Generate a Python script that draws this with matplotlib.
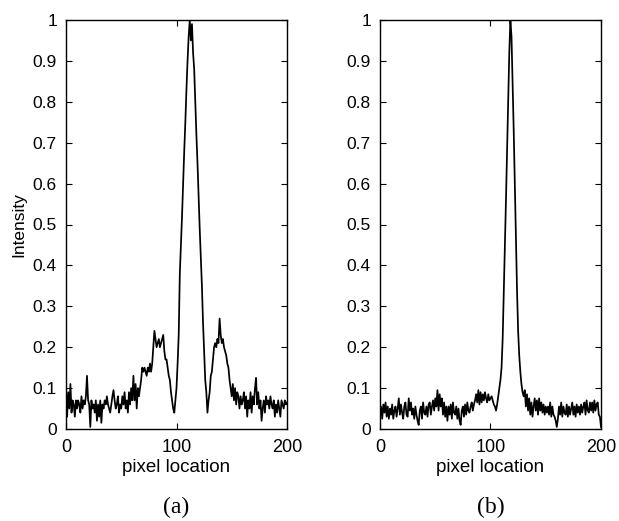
import numpy as np
import matplotlib
matplotlib.use("Agg")
import matplotlib.pyplot as plt

# Intensity profile (a), pixel 0..200
intensity_a = [
    0.10, 0.03, 0.09, 0.05, 0.11, 0.04, 0.07, 0.06, 0.03, 0.07, 0.05,
    0.07, 0.06, 0.04, 0.08, 0.05, 0.07, 0.06, 0.08, 0.13, 0.07,
    0.06, 0.005, 0.07, 0.05, 0.06, 0.04, 0.07, 0.02, 0.06, 0.03,
    0.07, 0.015, 0.06, 0.05, 0.07, 0.06, 0.08, 0.06, 0.05, 0.04,
    0.06, 0.08, 0.095, 0.07, 0.05, 0.06, 0.08, 0.04, 0.06, 0.05,
    0.08, 0.06, 0.09, 0.05, 0.07, 0.04, 0.09, 0.06, 0.10, 0.07,
    0.13, 0.07, 0.11, 0.05, 0.10, 0.08, 0.10, 0.12, 0.15, 0.14,
    0.15, 0.14, 0.13, 0.15, 0.14, 0.16, 0.14, 0.16, 0.20, 0.24,
    0.22, 0.20, 0.21, 0.22, 0.20, 0.21, 0.22, 0.23, 0.19, 0.17,
    0.17, 0.15, 0.13, 0.12, 0.09, 0.07, 0.05, 0.04, 0.07, 0.10,
    0.16, 0.23, 0.38, 0.45, 0.52, 0.60, 0.68, 0.75, 0.83, 0.90, 0.96,
    1.00, 0.95, 0.99, 0.92,
    0.88, 0.80, 0.72, 0.65, 0.57, 0.49, 0.42, 0.35, 0.26, 0.19, 0.12, 0.09,
    0.04, 0.07, 0.09, 0.13, 0.14, 0.17, 0.20, 0.21, 0.20, 0.22, 0.21, 0.27, 0.23,
    0.21, 0.22, 0.20, 0.19, 0.18, 0.16, 0.15, 0.12, 0.10, 0.08,
    0.11, 0.07, 0.10, 0.06, 0.09, 0.08, 0.05, 0.08, 0.06, 0.07,
    0.09, 0.05, 0.08, 0.03, 0.07, 0.05, 0.09, 0.04, 0.08, 0.06,
    0.10, 0.125, 0.06, 0.09, 0.05, 0.07, 0.02, 0.05, 0.07, 0.04,
    0.08, 0.06, 0.07, 0.05, 0.08, 0.06, 0.05, 0.07, 0.03, 0.06,
    0.04, 0.07, 0.05, 0.03, 0.07, 0.06, 0.05, 0.07, 0.06, 0.065,
]

# Intensity profile (b), pixel 0..200
intensity_b = [
    0.035, 0.055, 0.025, 0.06, 0.04, 0.065, 0.03, 0.055, 0.025, 0.05, 0.035,
    0.06, 0.025, 0.045, 0.055, 0.03, 0.05, 0.075, 0.035, 0.06, 0.04,
    0.025, 0.055, 0.065, 0.035, 0.03, 0.075, 0.045, 0.065, 0.035, 0.05,
    0.025, 0.055, 0.035, 0.02, 0.01, 0.045, 0.055, 0.025, 0.065, 0.04,
    0.035, 0.055, 0.03, 0.06, 0.065, 0.035, 0.055, 0.07, 0.045, 0.075,
    0.055, 0.095, 0.045, 0.085, 0.055, 0.075, 0.035, 0.065, 0.03, 0.055,
    0.02, 0.055, 0.035, 0.06, 0.025, 0.065, 0.04, 0.035, 0.055, 0.025,
    0.05, 0.02, 0.01, 0.045, 0.055, 0.03, 0.06, 0.035, 0.065, 0.045,
    0.04, 0.055, 0.065, 0.045, 0.06, 0.07, 0.085, 0.065, 0.095, 0.06,
    0.09, 0.065, 0.085, 0.07, 0.09, 0.075, 0.065, 0.085, 0.07, 0.075,
    0.08, 0.07, 0.06, 0.055, 0.045, 0.06, 0.08, 0.10, 0.12, 0.15,
    0.22, 0.33, 0.43, 0.56, 0.68, 0.80, 0.92, 1.00,
    0.96, 0.85, 0.73, 0.60, 0.47, 0.34, 0.24, 0.18, 0.14, 0.11, 0.09, 0.08,
    0.095, 0.055, 0.085, 0.045, 0.075, 0.035, 0.065, 0.03, 0.055, 0.075,
    0.045, 0.07, 0.035, 0.075, 0.045, 0.065, 0.04, 0.06, 0.035, 0.055,
    0.04, 0.055, 0.035, 0.065, 0.03, 0.055, 0.035, 0.03, 0.02, 0.005,
    0.025, 0.055, 0.035, 0.065, 0.03, 0.055, 0.04, 0.035, 0.06, 0.03,
    0.055, 0.035, 0.05, 0.065, 0.035, 0.055, 0.03, 0.06, 0.04, 0.055,
    0.035, 0.06, 0.04, 0.055, 0.065, 0.035, 0.07, 0.045, 0.04, 0.065,
    0.045, 0.065, 0.04, 0.07, 0.045, 0.06, 0.065, 0.035, 0.03, 0.005,
]

x_ticks = [0, 100, 200]
y_ticks = [0, 0.1, 0.2, 0.3, 0.4, 0.5, 0.6, 0.7, 0.8, 0.9, 1.0]
y_tick_labels = ["0", "0.1", "0.2", "0.3", "0.4", "0.5", "0.6", "0.7", "0.8", "0.9", "1"]
panel_labels = ["(a)", "(b)"]

W, H = 619, 521
fig = plt.figure(figsize=(W / 100, H / 100), dpi=100)

sans = ["Liberation Sans", "DejaVu Sans"]
serif = ["Liberation Serif", "DejaVu Serif"]

lefts = [66, 380]
ax_w, top_px, bot_px = 221, 20, 429
ax_h = bot_px - top_px
for i, (data, lab) in enumerate(zip([intensity_a, intensity_b], panel_labels)):
    ax = fig.add_axes([lefts[i] / W, 1 - bot_px / H, ax_w / W, ax_h / H])
    xs = np.arange(len(data))
    ax.plot(xs, data, color="black", lw=1.25)
    ax.set_xlim(0, 200)
    ax.set_ylim(0, 1)
    ax.set_xticks(x_ticks)
    ax.set_xticklabels([str(t) for t in x_ticks], family=sans, fontsize=13)
    ax.set_yticks(y_ticks)
    ax.set_yticklabels(y_tick_labels, family=sans, fontsize=12.5)
    ax.tick_params(direction="in", top=True, right=True, length=4, width=0.8)
    ax.tick_params(axis="y", pad=6.5)
    ax.tick_params(axis="x", pad=7)
    for s in ax.spines.values():
        s.set_linewidth(1.0)
    ax.set_xlabel("pixel location", family=sans, fontsize=13.5, va="center")
    ax.xaxis.set_label_coords(0.5, (bot_px - 468) / ax_h)
    if i == 0:
        ax.set_ylabel("Intensity", family=sans, fontsize=12.5, va="center")
        ax.yaxis.set_label_coords((19 - lefts[0]) / ax_w, 0.5)
    fig.text((lefts[i] + ax_w / 2) / W, 1 - 507 / H, lab, family=serif,
             fontsize=17, ha="center", va="center")

fig.savefig("out.png", dpi=100)
